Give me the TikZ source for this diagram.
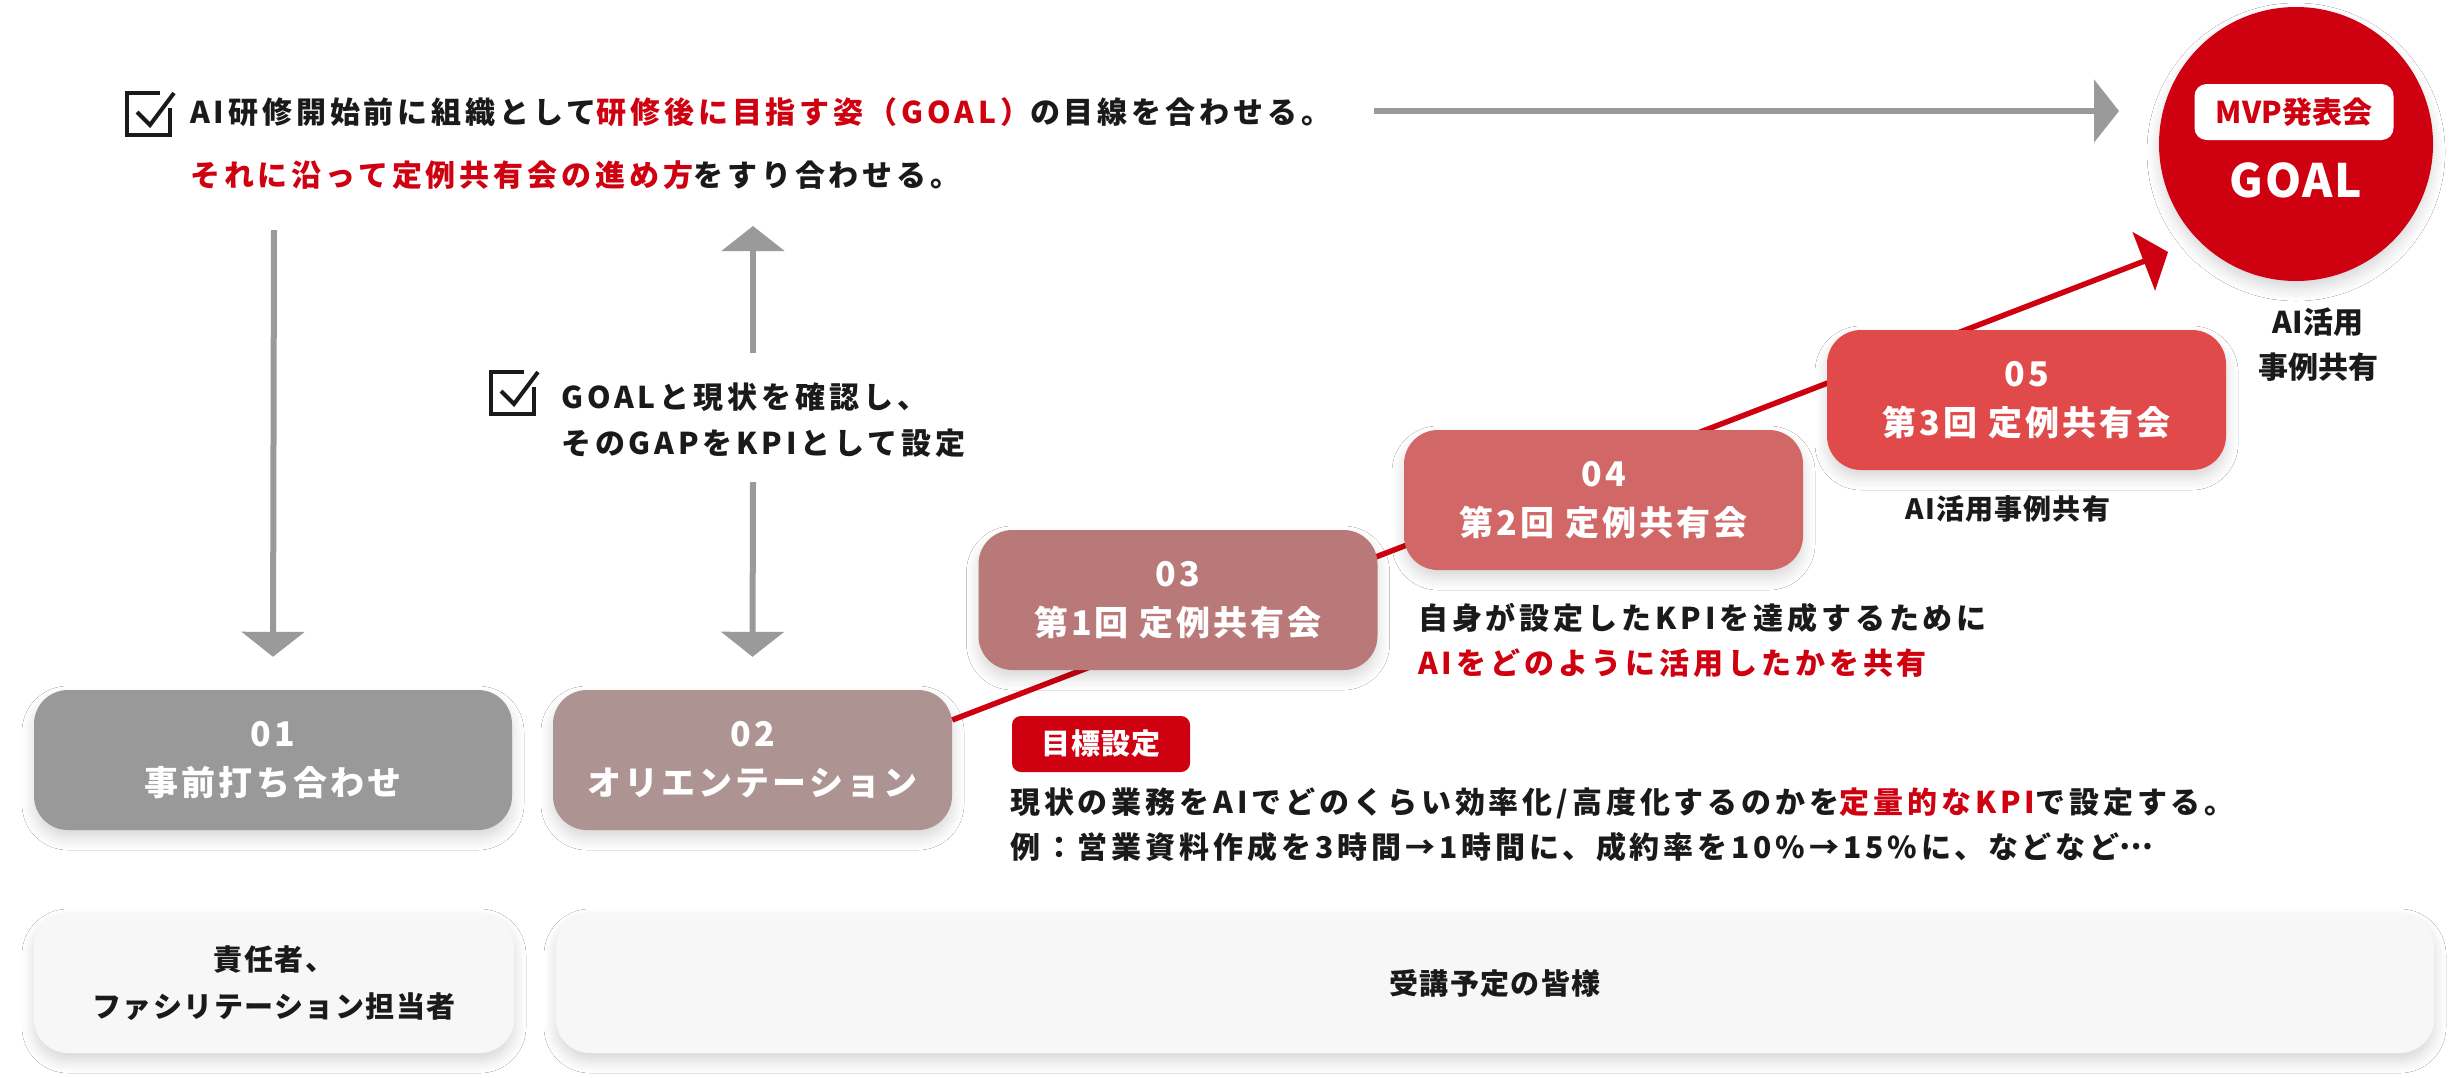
\documentclass[tikz,border=0pt]{standalone}
\usepackage{fontspec}
\setmainfont{Noto Sans CJK JP}
\usetikzlibrary{arrows.meta,shadows.blur,calc}
\definecolor{ink}{HTML}{1A1A1A}
\definecolor{brand}{HTML}{CF0010}
\definecolor{arrowgray}{HTML}{9A9A9A}
\definecolor{c01}{HTML}{999999}
\definecolor{c02}{HTML}{AE9393}
\definecolor{c03}{HTML}{BA7979}
\definecolor{c04}{HTML}{D16767}
\definecolor{c05}{HTML}{E04A4A}
\definecolor{panelbg}{HTML}{F7F7F7}
\newcommand\fs[2]{\fontsize{#1}{#2}\selectfont}
\newcommand\lsp[1]{\addfontfeature{LetterSpace=#1}}
\newcommand\middots{\raisebox{0.3em}{…}}
\begin{document}
\begin{tikzpicture}[x=1pt,y=-1pt,
  softshadow/.style={blur shadow={shadow xshift=0pt, shadow yshift=-8pt, shadow opacity=16, shadow blur radius=12pt, shadow blur steps=10}},
  stepbox/.style={rounded corners=34pt, minimum width=399pt, minimum height=140pt, inner sep=0pt, text=white, align=center, font=\bfseries\fs{34}{49}\lsp{9}, softshadow},
  panelbox/.style={fill=panelbg, rounded corners=34pt, minimum height=140pt, inner sep=0pt, text=ink, align=center, font=\bfseries\fs{29}{47}\lsp{5}, softshadow},
  txt/.style={anchor=base west, inner sep=0pt, text=ink, font=\bfseries\fs{30}{30}\lsp{13}},
  notetxt/.style={anchor=base west, inner sep=0pt, text=ink, font=\bfseries\fs{30}{30}\lsp{13}},
  grayarrow/.style={draw=arrowgray, line width=6pt, -{Triangle[length=25pt,width=62pt]}},
  redarrow/.style={draw=brand, line width=5.5pt, -{Triangle[length=26pt,width=62pt]}},
  chkbox/.pic={
    \draw[ink, line width=4pt, line join=miter] (33,0) -- (0,0) -- (0,42) -- (43,42) -- (43,15);
    \draw[ink, line width=4pt, line join=miter] (10,19) -- (23,32) -- (47,0);
  }]
\useasboundingbox (0,0) rectangle (2456,1077);
\fill[white] (0,0) rectangle (2456,1077);

% top statement
\pic at (127,93) {chkbox};
\node[txt] (t1) at (190,123) {AI研修開始前に組織として\textcolor{brand}{研修後に目指す姿（GOAL）}の目線を合わせる。};
\node[txt] (t2) at (190,186) {\textcolor{brand}{それに沿って定例共有会の進め方}をすり合わせる。};

% goal circle
\node[circle, fill=brand, minimum size=274pt, inner sep=0pt, softshadow] (goal) at (2296,144) {};
\node[fill=white, rounded corners=12pt, minimum width=199pt, minimum height=56pt, inner sep=0pt, text=brand, font=\bfseries\fs{30}{30}] (mvp) at (2294,112) {MVP発表会};
\node[inner sep=0pt, text=white, font=\bfseries\fs{46}{46}\lsp{4}] (goaltxt) at (2296,180) {GOAL};
\node[inner sep=0pt, text=ink, align=center, font=\bfseries\fs{30}{45}] (goalnote) at (2318,345) {AI活用\\事例共有};

% horizontal arrow
\coordinate (hA) at (1374,111);
\coordinate (hB) at (2119,111);
\draw[grayarrow] (hA) -- (hB);

% step boxes
\node[stepbox, fill=c01, minimum width=478pt] (b01) at (273,760) {01\\事前打ち合わせ};
\node[stepbox, fill=c02] (b02) at (752.5,760) {02\\オリエンテーション};
\coordinate (rS) at ($(b02.east)+(0,-40)$);
\coordinate (rE) at (2168,252);
\draw[redarrow] (rS) -- (rE);
\node[stepbox, fill=c03] (b03) at (1178,600) {03\\第1回 定例共有会};
\node[stepbox, fill=c04] (b04) at (1603.5,500) {04\\第2回 定例共有会};
\node[stepbox, fill=c05] (b05) at (2026.5,400) {05\\第3回 定例共有会};
\node[inner sep=0pt, text=ink, font=\bfseries\fs{28}{28}\lsp{4}] (n05) at (2008,509) {AI活用事例共有};

% vertical arrows
\coordinate (lA) at (274,230);
\draw[grayarrow] (lA) -- ($(b01.north)+(0,-33)$);
\coordinate (mA) at (753,353);
\coordinate (mB) at (753,226);
\draw[grayarrow] (mA) -- (mB);
\coordinate (mC) at (753,482);
\draw[grayarrow] (mC) -- ($(b02.north)+(0,-33)$);

% middle check
\pic at (491,372) {chkbox};
\node[txt] (t3) at (561,408) {GOALと現状を確認し、};
\node[txt] (t4) at (561,454) {そのGAPをKPIとして設定};

% KPI notes
\node[notetxt] (t5) at (1418,629) {自身が設定したKPIを達成するために};
\node[notetxt, text=brand] (t6) at (1418,674) {AIをどのように活用したかを共有};

\node[fill=brand, rounded corners=9pt, minimum width=178pt, minimum height=56pt, inner sep=0pt, text=white, font=\bfseries\fs{29}{29}\lsp{4}] (tag) at (1101,744) {目標設定};
\node[notetxt] (t7) at (1010,813) {現状の業務をAIでどのくらい効率化/高度化するのかを\textcolor{brand}{定量的なKPI}で設定する。};
\node[notetxt] (t8) at (1010,858) {例：営業資料作成を3時間→1時間に、成約率を10\%→15\%に、などなど\middots};

% bottom panels
\node[panelbox, minimum width=480pt] (p1) at (274,983) {責任者、\\ファシリテーション担当者};
\node[panelbox, minimum width=1878pt] (p2) at (1495,983) {受講予定の皆様};
\end{tikzpicture}
\end{document}
